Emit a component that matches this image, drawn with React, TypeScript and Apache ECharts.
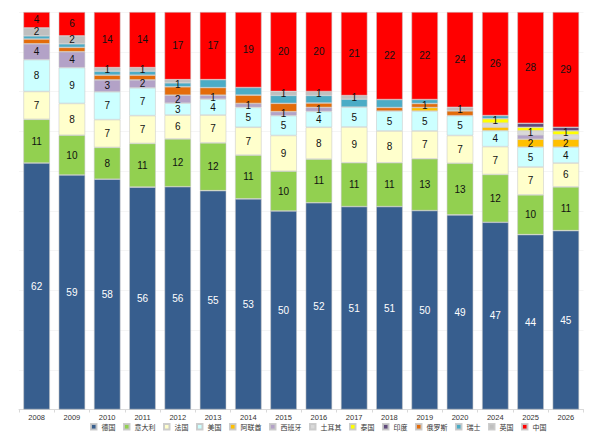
import React, { useEffect, useRef } from "react";
import * as echarts from "echarts";

const years = ["2008", "2009", "2010", "2011", "2012", "2013", "2014", "2015", "2016", "2017", "2018", "2019", "2020", "2024", "2025", "2026"];

const germany = [62, 59, 58, 56, 56, 55, 53, 50, 52, 51, 51, 50, 49, 47, 44, 45];
const italy = [11, 10, 8, 11, 12, 12, 11, 10, 11, 11, 11, 13, 13, 12, 10, 11];
const france = [7, 8, 7, 7, 6, 7, 7, 9, 8, 9, 8, 7, 7, 7, 7, 6];
const usa = [8, 9, 7, 7, 3, 4, 5, 5, 4, 5, 5, 5, 5, 4, 5, 4];
const uae = [0, 0, 0, 0, 0, 0, 0, 0, 0, 0, 0, 0.9, 0, 0.9, 2, 2];
const spain = [4, 4, 3, 2, 2, 1, 1, 1, 1, 0, 0, 0, 0, 0, 1.1, 0];
const turkey = [0, 0, 0, 0, 0, 0, 0, 0, 0, 0, 0, 0, 0, 1, 1, 1.1];
const thailand = [0, 0, 0, 0, 0, 0, 0, 0, 0, 0, 0, 0, 0, 1.1, 0.9, 1];
const india = [0, 0, 0, 0, 0, 0, 0, 0, 0, 0, 0, 0, 0, 0, 1, 0.9];
const russia = [1.2, 1.1, 1.2, 1.2, 2.1, 1.9, 2.1, 2.1, 1.1, 0, 0.9, 1, 1.2, 0, 0, 0];
const swiss = [0.8, 0.9, 1, 1, 1, 2, 1.9, 2, 1.9, 2, 2, 1, 0, 0.8, 0, 0];
const uk = [2, 2, 0.9, 0.9, 0.8, 0, 0, 1, 1, 0.9, 0, 0, 0.9, 0, 0, 0];
const china = [4, 6, 14, 14, 17, 17, 19, 20, 20, 21, 22, 22, 24, 26, 28, 29];

const seriesNames = ["德国", "意大利", "法国", "美国", "阿联酋", "西班牙", "土耳其", "泰国", "印度", "俄罗斯", "瑞士", "英国", "中国"];
const seriesValues = [germany, italy, france, usa, uae, spain, turkey, thailand, india, russia, swiss, uk, china];
const seriesColors = ["#375E8E", "#92D050", "#FFFFCC", "#CCFFFF", "#FFC000", "#B3A2C7", "#D9D9D9", "#FFFF00", "#604A7B", "#E46C0A", "#4BACC6", "#BFBFBF", "#FF0000"];

// segments drawn without a data label in the original
const hiddenLabels: Record<string, string[]> = {
  "俄罗斯": ["2008", "2009", "2010", "2011", "2012", "2013", "2014", "2015", "2016", "2018", "2020"],
  "瑞士": ["2008", "2009", "2010", "2011", "2013", "2014", "2015", "2016", "2017", "2018", "2019", "2024"],
  "英国": ["2012"],
  "阿联酋": ["2019", "2024"],
  "西班牙": ["2025"],
  "土耳其": ["2024", "2026"],
  "泰国": ["2025"],
  "印度": ["2025", "2026"],
};

export default function App() {
  const ref = useRef<HTMLDivElement>(null);
  useEffect(() => {
    if (!ref.current) return;
    const chart = echarts.init(ref.current, null, { renderer: "svg" });
    const totals = years.map((_, i) => seriesValues.reduce((s, arr) => s + arr[i], 0));
    const series = seriesNames.map((name, si) => ({
      name,
      type: "bar",
      stack: "total",
      barWidth: 26.5,
      itemStyle: { color: seriesColors[si], borderColor: "rgba(200,200,200,0.9)", borderWidth: 0.6 },
      label: {
        show: true,
        position: "inside",
        fontFamily: "Liberation Sans, Arial, sans-serif",
        fontSize: 10,
        color: si === 0 ? "#ffffff" : "#111111",
        formatter: (p: any) => String(Math.round(p.data.raw)),
      },
      data: years.map((y, i) => {
        const v = seriesValues[si][i];
        if (!v) return { value: null, raw: 0 };
        const hidden = (hiddenLabels[name] || []).includes(y);
        return { value: (v / totals[i]) * 100, raw: v, label: { show: !hidden } };
      }),
    }));
    chart.setOption({
      animation: false,
      grid: { left: 19, right: 13.5, top: 12, bottom: 24.5, containLabel: false },
      legend: {
        data: seriesNames,
        left: 90,
        top: 423,
        padding: 0,
        itemWidth: 5.5,
        itemHeight: 5.5,
        itemGap: 7.5,
        icon: "rect",
        textStyle: { fontSize: 7, color: "#333", fontFamily: "Noto Sans CJK SC" },
      },
      xAxis: {
        type: "category",
        data: years,
        axisLine: { lineStyle: { color: "#d9d9d9", width: 1 } },
        axisTick: { show: true, length: 3, lineStyle: { color: "#d9d9d9" } },
        axisLabel: { fontSize: 7.5, color: "#333", margin: 4, fontFamily: "Liberation Sans, Arial, sans-serif" },
      },
      yAxis: {
        type: "value",
        min: 0,
        max: 100,
        interval: 10,
        axisLabel: { show: false },
        axisLine: { show: false },
        axisTick: { show: false },
        splitLine: { lineStyle: { color: "#f5f5f5", width: 1 } },
      },
      series,
    });
    return () => chart.dispose();
  }, []);
  return <div ref={ref} style={{ position: "fixed", left: 0, top: 0, width: 597, height: 434, background: "#fff" }} />;
}
